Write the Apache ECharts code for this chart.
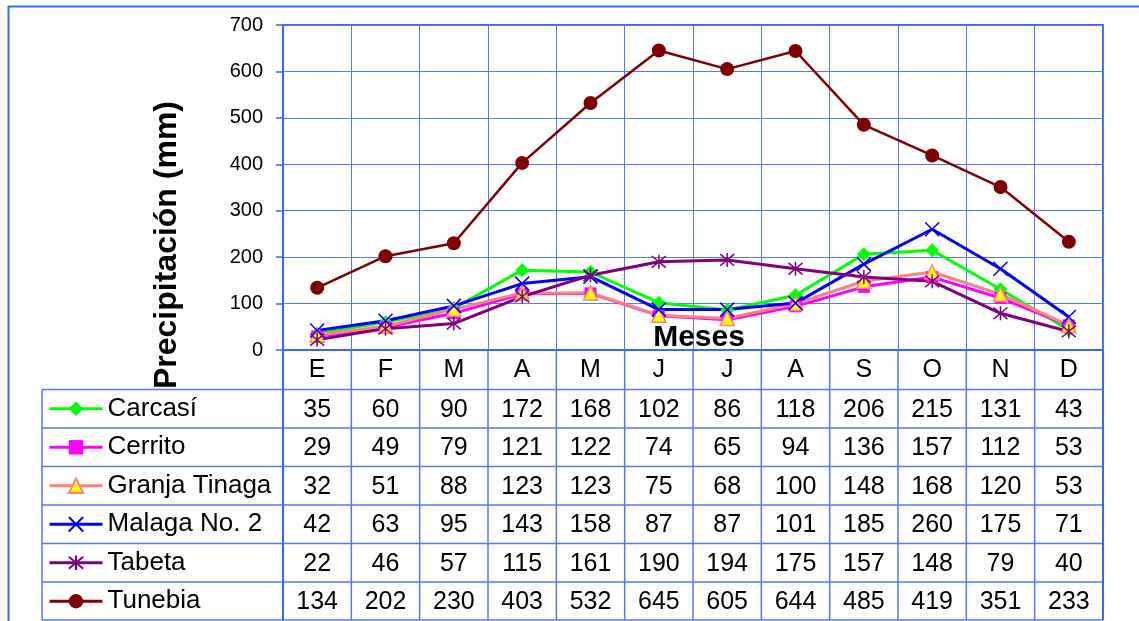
<!DOCTYPE html>
<html>
<head>
<meta charset="utf-8">
<script src="https://cdn.jsdelivr.net/npm/echarts@6/dist/echarts.min.js"></script>
<style>
html,body{margin:0;padding:0;background:#fff;}
#chart{width:1139px;height:621px;}
</style>
</head>
<body>
<div id="chart"></div>
<script>
const months = ['E','F','M','A','M','J','J','A','S','O','N','D'];
const seriesNames = ['Carcasí','Cerrito','Granja Tinaga','Malaga No. 2','Tabeta','Tunebia'];
const carcasi = [35,60,90,172,168,102,86,118,206,215,131,43];
const cerrito = [29,49,79,121,122,74,65,94,136,157,112,53];
const granjaTinaga = [32,51,88,123,123,75,68,100,148,168,120,53];
const malaga2 = [42,63,95,143,158,87,87,101,185,260,175,71];
const tabeta = [22,46,57,115,161,190,194,175,157,148,79,40];
const tunebia = [134,202,230,403,532,645,605,644,485,419,351,233];
const yTicks = [0,100,200,300,400,500,600,700];

const allValues = [carcasi, cerrito, granjaTinaga, malaga2, tabeta, tunebia];

const FONT = '"Liberation Sans", Arial, sans-serif';
const GRID = {left:283, top:25, width:820, height:325};
const ROW_TOP = 389.5, ROW_H = 38.5, TABLE_LEFT = 42, TABLE_BOTTOM = 620;
const LINE_C = '#5577ff', BORDER_C = '#3a66ff';

const styles = [
  {color:'#00ff00', symbol:'diamond', size:14, width:3, item:{color:'#00ff00'}},
  {color:'#ff00ff', symbol:'rect', size:12, width:3, item:{color:'#ff00ff'}},
  {color:'#ff8080', symbol:'triangle', size:14, width:3, item:{color:'#ffff00', borderColor:'#ff8080', borderWidth:1.5}},
  {color:'#0000ff', symbol:'path://M0,0L10,10M10,0L0,10', size:14, width:3, item:{color:'#0000ff', borderColor:'#0000ff', borderWidth:1.5}},
  {color:'#800080', symbol:'path://M0,0L10,10M10,0L0,10M5,-1L5,11', size:14, width:3, item:{color:'#800080', borderColor:'#800080', borderWidth:1.5}},
  {color:'#800000', symbol:'circle', size:14, width:2.5, item:{color:'#800000'}}
];

const chart = echarts.init(document.getElementById('chart'), null, {renderer:'canvas'});

const series = seriesNames.map((n,i)=>({
  name:n, type:'line', data:allValues[i],
  symbol:styles[i].symbol, symbolSize:styles[i].size,
  lineStyle:{color:styles[i].color, width:styles[i].width},
  itemStyle:styles[i].item,
  emphasis:{disabled:true},
  animation:false
}));

const legends = seriesNames.map((n,i)=>({
  data:[n], orient:'vertical', left:48, top:ROW_TOP + i*ROW_H + (ROW_H-26)/2,
  padding:0, itemWidth:53, itemHeight:18, selectedMode:false,
  lineStyle:{width:3},
  textStyle:{fontSize:26, color:'#000', fontFamily:FONT}
}));

chart.setOption({
  animation:false,
  textStyle:{fontFamily:FONT},
  grid:{left:GRID.left, top:GRID.top, width:GRID.width, height:GRID.height, show:true, borderColor:BORDER_C, borderWidth:2},
  legend:legends,
  xAxis:{
    type:'category', data:months, boundaryGap:true,
    axisLine:{lineStyle:{color:BORDER_C, width:2}},
    axisTick:{show:false},
    axisLabel:{interval:0, fontSize:25, color:'#000', margin:8, fontFamily:FONT},
    splitLine:{show:true, interval:0, lineStyle:{color:LINE_C, width:1}}
  },
  yAxis:{
    type:'value', min:0, max:700, interval:100,
    axisLine:{show:true, lineStyle:{color:BORDER_C, width:2}},
    axisTick:{show:true, length:7, lineStyle:{color:BORDER_C, width:1.5}},
    axisLabel:{fontSize:20, color:'#000', margin:20, fontFamily:FONT,
      formatter:(v)=> yTicks.indexOf(v)>=0 ? String(v) : ''},
    splitLine:{show:true, lineStyle:{color:LINE_C, width:1}}
  },
  series:series
});

// table graphics
const g = [];
// outer border
g.push({type:'line', shape:{x1:8, y1:6.5, x2:1139, y2:6.5}, style:{stroke:BORDER_C, lineWidth:2}, silent:true});
g.push({type:'line', shape:{x1:8.5, y1:6, x2:8.5, y2:621}, style:{stroke:BORDER_C, lineWidth:2}, silent:true});
// horizontal table lines
for (let r=0; r<=6; r++){
  const y = Math.min(ROW_TOP + r*ROW_H, TABLE_BOTTOM);
  g.push({type:'line', shape:{x1:TABLE_LEFT, y1:y, x2:GRID.left+GRID.width, y2:y}, style:{stroke:LINE_C, lineWidth:1.5}, silent:true});
}
g.push({type:'line', shape:{x1:TABLE_LEFT, y1:ROW_TOP, x2:TABLE_LEFT, y2:TABLE_BOTTOM}, style:{stroke:LINE_C, lineWidth:1.5}, silent:true});
// vertical table lines at category boundaries
const colW = GRID.width / months.length;
for (let k=0; k<=months.length; k++){
  const x = GRID.left + k*colW;
  g.push({type:'line', shape:{x1:x, y1:GRID.top+GRID.height, x2:x, y2:TABLE_BOTTOM}, style:{stroke:(k===0||k===months.length)?BORDER_C:LINE_C, lineWidth:(k===0||k===months.length)?2:1.5}, silent:true});
}
// values
allValues.forEach((vals, r)=>{
  vals.forEach((v, c)=>{
    const px = chart.convertToPixel({xAxisIndex:0}, c);
    g.push({type:'text', x:px, y:ROW_TOP + r*ROW_H + ROW_H/2 + 1, silent:true,
      style:{text:String(v), fontSize:25, fontFamily:FONT, fill:'#000', align:'center', verticalAlign:'middle'}});
  });
});
// axis titles
g.push({type:'text', x:167, y:245, rotation:Math.PI/2, silent:true, z:10,
  style:{text:'Precipitación (mm)', fontSize:32, fontWeight:'bold', fontFamily:FONT, fill:'#000', align:'center', verticalAlign:'middle'}});
g.push({type:'text', x:699, y:338, silent:true, z:10,
  style:{text:'Meses', fontSize:30, fontWeight:'bold', fontFamily:FONT, fill:'#000', align:'center', verticalAlign:'middle'}});

chart.setOption({graphic:{elements:g}});
</script>
</body>
</html>
